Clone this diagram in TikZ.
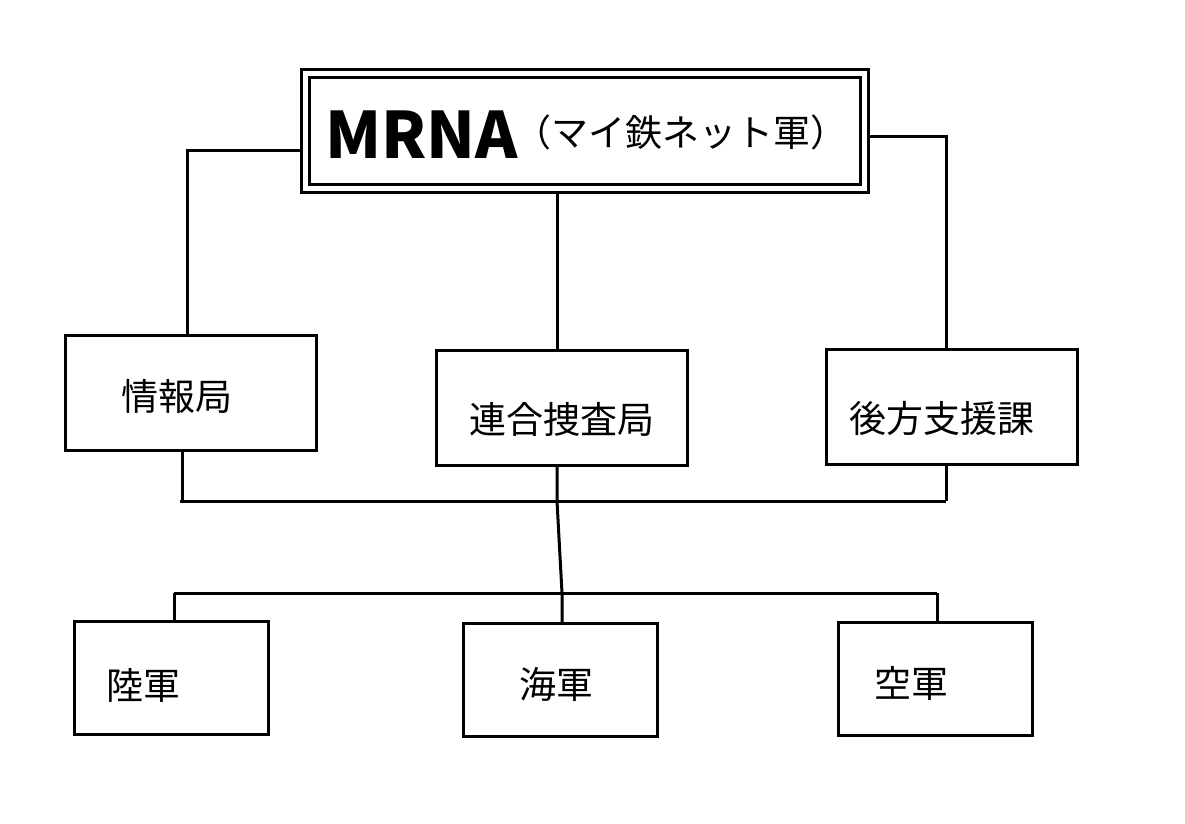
\documentclass[tikz,border=0pt]{standalone}
\usepackage{fontspec}
\setmainfont{Noto Sans CJK JP}
\begin{document}
\begin{tikzpicture}[x=1pt,y=-1pt,
  box/.style={draw, line width=3pt, inner sep=0pt},
  titlebox/.style={draw, line width=3pt, double, double distance=5pt, inner sep=0pt, outer sep=5.5pt},
  lbl/.style={inner sep=0pt, font=\fontsize{37}{37}\selectfont},
  conn/.style={line width=3pt}]
\useasboundingbox[fill=white] (0,0) rectangle (1185,823);

% boxes
\node[titlebox, minimum width=559pt, minimum height=115pt] (top) at (585,131) {};
\node[box, minimum width=251pt, minimum height=115pt] (jo) at (191,393) {};
\node[box, minimum width=251pt, minimum height=115pt] (ren) at (562,408) {};
\node[box, minimum width=251pt, minimum height=115pt] (ko) at (952,407) {};
\node[box, minimum width=194pt, minimum height=113pt] (riku) at (171.5,678) {};
\node[box, minimum width=194pt, minimum height=113pt] (umi) at (560.5,680) {};
\node[box, minimum width=194pt, minimum height=113pt] (sora) at (935.5,679) {};

% texts
\node[inner sep=0pt, anchor=base west, font=\fontsize{64}{64}\selectfont\bfseries] (mrna) at (325,158) {MRNA};
\node[inner sep=0pt, anchor=base west, font=\fontsize{37}{37}\selectfont] (sub) at (514,146) {（マイ鉄ネット軍）};
\node[lbl] (tjo) at (177,396) {情報局};
\node[lbl] (tren) at (562,419) {連合捜査局};
\node[lbl] (tko) at (942,418) {後方支援課};
\node[lbl] (triku) at (143,685) {陸軍};
\node[lbl] (tumi) at (556,684) {海軍};
\node[lbl] (tsora) at (911,683) {空軍};

% junctions
\coordinate (jn) at ([xshift=-4pt]jo.north);
\coordinate (kn) at ([xshift=-6pt]ko.north);
\coordinate (rn) at ([xshift=-5pt]ren.north);
\coordinate (js) at ([xshift=-9pt]jo.south);
\coordinate (ks) at ([xshift=-6pt]ko.south);
\coordinate (rs) at ([xshift=-5pt]ren.south);
\coordinate (busA) at (180,501);
\coordinate (busAr) at (946,501);
\coordinate (mid) at (557,501);
\coordinate (busB) at (562,593);
\coordinate (un) at ([xshift=1.5pt]umi.north);
\coordinate (rkn) at ([xshift=2.5pt]riku.north);
\coordinate (sn) at ([xshift=1.5pt]sora.north);

% connectors
\draw[conn] ([yshift=-19pt]top.west) -| (jn);
\draw[conn] ([yshift=-5pt]top.east) -| (kn);
\draw[conn] (rn |- top.south) -- (rn);
\draw[conn] (js) -- (js |- busA);
\draw[conn] (busA) -- (busAr);
\draw[conn] (ks) -- (ks |- busAr);
\draw[conn] (rs) -- (mid) -- (busB) -- (un);
\draw[conn] (rkn |- busB) -- (sn |- busB);
\draw[conn] (rkn |- busB) -- (rkn);
\draw[conn] (sn |- busB) -- (sn);
\end{tikzpicture}
\end{document}
